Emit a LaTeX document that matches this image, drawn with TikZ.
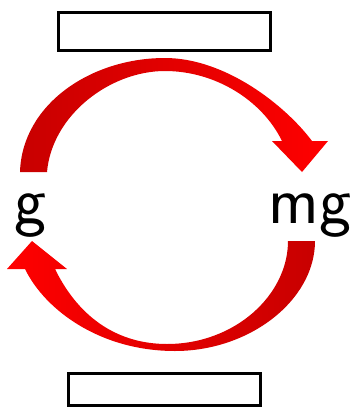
\documentclass[tikz,border=0pt]{standalone}
\usepackage{fontspec}
\definecolor{rdark}{HTML}{C80000}
\definecolor{rlight}{HTML}{FF0000}

\begin{document}
\begin{tikzpicture}[x=1pt,y=-1pt,box/.style={draw=black,line width=3pt,fill=white,inner sep=0pt},lbl/.style={anchor=base,inner sep=0pt,font=\sffamily\fontsize{68}{68}\selectfont},topband/.style={left color=rdark,middle color=rlight,right color=rlight},lowband/.style={left color=rlight,middle color=rlight,right color=rdark}]
\useasboundingbox (0,0) rectangle (352,408);
\node[box, minimum width=212pt, minimum height=38pt] (upper) at (164.5,31.5) {};
\node[box, minimum width=192pt, minimum height=32pt] (lower) at (164.5,389.5) {};
\node[lbl] (g) at (30,223) {g};
\node[lbl] (mg) at (310,223) {mg};
% arrow from g over the top to mg
\shade[topband] (20,172) .. controls (22,105) and (90,58) .. (165,58) .. controls (225,58) and (285,105) .. (312,141) -- (328,141) -- (302,172) -- (272,141) -- (282,141) .. controls (262,100) and (215,71) .. (165,71) .. controls (110,71) and (52,115) .. (47,172) -- cycle;
% arrow from mg under the bottom back to g
\shade[lowband] (315,241) .. controls (315,300) and (250,351) .. (175,351) .. controls (100,351) and (45,310) .. (25,269) -- (7,269) -- (32,241) -- (67,269) -- (55,269) .. controls (80,320) and (120,344) .. (167,344) .. controls (235,344) and (288,295) .. (288,241) -- cycle;
\end{tikzpicture}
\end{document}
